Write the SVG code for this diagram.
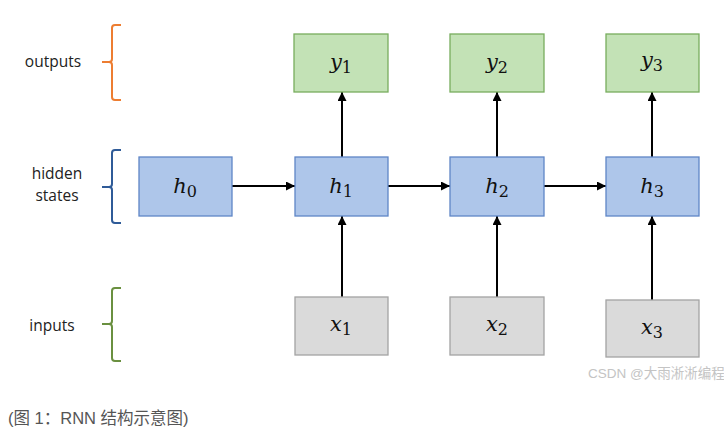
<svg xmlns="http://www.w3.org/2000/svg" width="724" height="432" viewBox="0 0 724 432">
<style>
.h{fill:#aec6ea;stroke:#5f86c6;stroke-width:1.3}
.y{fill:#c3e2b6;stroke:#78ad5e;stroke-width:1.3}
.x{fill:#dadada;stroke:#a3a3a3;stroke-width:1.3}
.lbl{font-family:"Open Sans","Liberation Sans",sans-serif;font-size:15.5px;fill:#222;text-anchor:middle}
.m{font-family:"DejaVu Serif","Liberation Serif",serif;font-style:italic;font-size:21px;fill:#111;text-anchor:middle}
.s{font-style:normal;font-size:16px}
.c{stroke:#000;stroke-width:2;fill:none;marker-end:url(#a)}
.br{fill:none;stroke-width:2}
</style>
<defs>
<marker id="a" viewBox="0 0 10 10" refX="10" refY="5" markerWidth="4.5" markerHeight="4.5" orient="auto" markerUnits="strokeWidth">
<path d="M0,0 L10,5 L0,10 z" fill="#000"/>
</marker>
</defs>
<rect width="724" height="432" fill="#fff"/>
<g id="brackets">
<path class="br" stroke="#ed7d31" d="M121,25 H115 Q112,25 112,28 V59 Q112,62 109,62 H102 M109,62 Q112,62 112,65 V97 Q112,100 115,100 H121"/>
<path class="br" stroke="#2f5b98" d="M121,150 H115 Q112,150 112,153 V184 Q112,187 109,187 H102 M109,187 Q112,187 112,190 V220 Q112,223 115,223 H121"/>
<path class="br" stroke="#6a9040" d="M121,288 H115 Q112,288 112,291 V321 Q112,324 109,324 H102 M109,324 Q112,324 112,327 V358 Q112,361 115,361 H121"/>
</g>
<g id="labels">
<text class="lbl" x="53" y="67">outputs</text>
<text class="lbl" x="57" y="179">hidden</text>
<text class="lbl" x="57" y="201">states</text>
<text class="lbl" x="52" y="331">inputs</text>
</g>
<g id="connectors">
<path class="c" d="M232,186 H295"/>
<path class="c" d="M388,186 H450"/>
<path class="c" d="M544,186 H606"/>
<path class="c" d="M342,157 V92"/>
<path class="c" d="M497,157 V92"/>
<path class="c" d="M652,157 V92"/>
<path class="c" d="M342,297 V216"/>
<path class="c" d="M497,297 V216"/>
<path class="c" d="M652,300 V216"/>
</g>
<g id="h0"><rect class="h" x="139" y="157" width="93" height="59"/><text class="m" x="185" y="193">h<tspan class="s" dy="4">0</tspan></text></g>
<g id="h1"><rect class="h" x="295" y="157" width="93" height="59"/><text class="m" x="341" y="193">h<tspan class="s" dy="4">1</tspan></text></g>
<g id="h2"><rect class="h" x="450" y="157" width="94" height="59"/><text class="m" x="497" y="193">h<tspan class="s" dy="4">2</tspan></text></g>
<g id="h3"><rect class="h" x="606" y="157" width="93" height="59"/><text class="m" x="652" y="193">h<tspan class="s" dy="4">3</tspan></text></g>
<g id="y1"><rect class="y" x="294" y="34" width="94" height="58"/><text class="m" x="341" y="69">y<tspan class="s" dy="4">1</tspan></text></g>
<g id="y2"><rect class="y" x="450" y="34" width="94" height="58"/><text class="m" x="497" y="69">y<tspan class="s" dy="4">2</tspan></text></g>
<g id="y3"><rect class="y" x="606" y="34" width="93" height="58"/><text class="m" x="652" y="67">y<tspan class="s" dy="4">3</tspan></text></g>
<g id="x1"><rect class="x" x="295" y="297" width="93" height="58"/><text class="m" x="341" y="331">x<tspan class="s" dy="4">1</tspan></text></g>
<g id="x2"><rect class="x" x="450" y="297" width="94" height="58"/><text class="m" x="497" y="331">x<tspan class="s" dy="4">2</tspan></text></g>
<g id="x3"><rect class="x" x="606" y="300" width="93" height="57"/><text class="m" x="652" y="334">x<tspan class="s" dy="4">3</tspan></text></g>
<text x="588" y="378" font-family="Liberation Sans,'Noto Sans CJK SC',sans-serif" font-size="13.5" fill="#c4c4c4">CSDN @大雨淅淅编程</text>
<text x="8" y="424" font-family="Liberation Sans,'Noto Sans CJK SC',sans-serif" font-size="16.5" fill="#555">(图 1：RNN 结构示意图)</text>
</svg>
